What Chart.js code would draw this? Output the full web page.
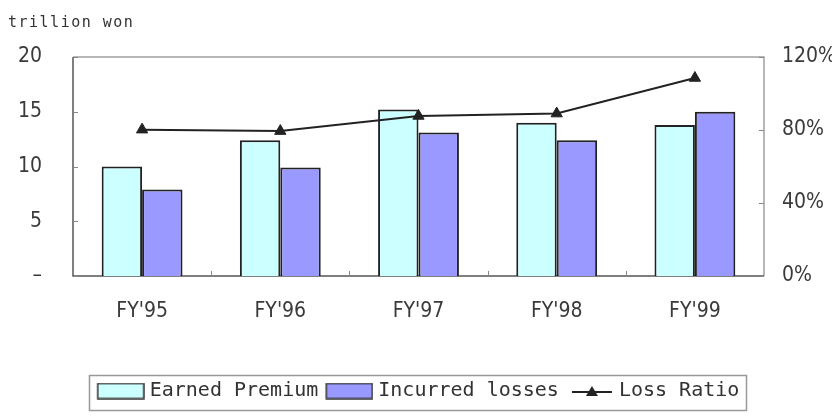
<!DOCTYPE html>
<html>
<head>
<meta charset="utf-8">
<script src="https://cdn.jsdelivr.net/npm/chart.js@4/dist/chart.umd.min.js"></script>
<style>
html, body { margin: 0; padding: 0; background: #fff; }
#wrap { width: 832px; height: 418px; position: relative; }
</style>
</head>
<body>
<div id="wrap"><canvas id="lossChart"></canvas></div>
<script>
// datos del grafico
const categories = ["FY'95", "FY'96", "FY'97", "FY'98", "FY'99"];
const earnedPremium = [10.0, 12.4, 15.2, 14.0, 13.8];
const incurredLosses = [7.9, 9.9, 13.1, 12.4, 15.0];
const lossRatio = [80.2, 79.4, 87.7, 89.0, 108.5];
const leftTicks = [0, 5, 10, 15, 20];
const rightTicks = [0, 40, 80, 120];

const axisFont = "'DejaVu Sans Condensed', 'DejaVu Sans', sans-serif";
const legendFont = "'DejaVu Sans Mono', monospace";

// muestras de la leyenda
function boxSwatch(color) {
    const c = document.createElement('canvas');
    c.width = 54;
    c.height = 17;
    const g = c.getContext('2d');
    g.fillStyle = color;
    g.fillRect(7, 1, 46, 15);
    g.strokeStyle = '#333';
    g.lineWidth = 1.5;
    g.strokeRect(7, 1, 46, 15);
    return c;
}

function lineSwatch() {
    const c = document.createElement('canvas');
    c.width = 54;
    c.height = 14;
    const g = c.getContext('2d');
    g.strokeStyle = '#222';
    g.lineWidth = 2;
    g.beginPath();
    g.moveTo(12, 8);
    g.lineTo(52, 8);
    g.stroke();
    g.fillStyle = '#222';
    g.beginPath();
    g.moveTo(32, 2);
    g.lineTo(38, 12);
    g.lineTo(26, 12);
    g.closePath();
    g.fill();
    return c;
}

const swatches = [boxSwatch('#ccffff'), boxSwatch('#9999ff'), lineSwatch()];

// marco, marcas y titulo
const framePlugin = {
    id: 'frame',
    beforeDatasetsDraw(chart) {
        const { ctx, chartArea: a, scales } = chart;
        ctx.save();
        ctx.lineWidth = 1.5;
        ctx.strokeStyle = '#a0a0a0';
        ctx.beginPath();
        ctx.moveTo(a.left, a.top);
        ctx.lineTo(a.right, a.top);
        ctx.lineTo(a.right, a.bottom);
        ctx.stroke();
        ctx.strokeStyle = '#555';
        ctx.beginPath();
        ctx.moveTo(a.left, a.top);
        ctx.lineTo(a.left, a.bottom);
        ctx.lineTo(a.right, a.bottom);
        ctx.stroke();

        ctx.lineWidth = 1;
        ctx.strokeStyle = '#888';
        ctx.beginPath();
        leftTicks.forEach(v => {
            const y = Math.round(scales.y.getPixelForValue(v)) + 0.5;
            ctx.moveTo(a.left, y);
            ctx.lineTo(a.left + 5, y);
        });
        rightTicks.forEach(v => {
            const y = Math.round(scales.y1.getPixelForValue(v)) + 0.5;
            ctx.moveTo(a.right - 5, y);
            ctx.lineTo(a.right, y);
        });
        for (let i = 1; i < categories.length; i++) {
            const x = Math.round((scales.x.getPixelForValue(i - 1) + scales.x.getPixelForValue(i)) / 2) + 0.5;
            ctx.moveTo(x, a.bottom);
            ctx.lineTo(x, a.bottom - 5);
        }
        ctx.stroke();
        ctx.restore();
    },
    afterDraw(chart) {
        const ctx = chart.ctx;
        ctx.save();
        ctx.fillStyle = '#333';
        ctx.font = "15px " + legendFont;
        ctx.letterSpacing = '1.5px';
        ctx.textBaseline = 'alphabetic';
        ctx.textAlign = 'left';
        ctx.fillText('trillion won', 8, 27);
        ctx.restore();

        const legend = chart.legend;
        const boxes = legend.legendHitBoxes;
        if (!boxes || !boxes.length) return;
        const left = Math.min(...boxes.map(b => b.left)) - 7;
        const right = Math.max(...boxes.map(b => b.left + b.width)) + 6;
        ctx.save();
        ctx.strokeStyle = '#999';
        ctx.lineWidth = 1.5;
        ctx.strokeRect(Math.round(left) + 0.5, legend.top + 0.5, Math.round(right - left), legend.height - 1);
        ctx.restore();
    }
};

const ctx = document.getElementById('lossChart').getContext('2d');
new Chart(ctx, {
    type: 'bar',
    data: {
        labels: categories,
        datasets: [
            {
                label: 'Earned Premium',
                data: earnedPremium,
                backgroundColor: '#ccffff',
                borderColor: '#222',
                borderWidth: 2,
                barPercentage: 1.0,
                categoryPercentage: 0.585,
                yAxisID: 'y'
            },
            {
                label: 'Incurred losses',
                data: incurredLosses,
                backgroundColor: '#9999ff',
                borderColor: '#222',
                borderWidth: 2,
                barPercentage: 1.0,
                categoryPercentage: 0.585,
                yAxisID: 'y'
            },
            {
                type: 'line',
                label: 'Loss Ratio',
                data: lossRatio,
                borderColor: '#222',
                borderWidth: 2,
                backgroundColor: '#222',
                pointStyle: 'triangle',
                pointRadius: 6.5,
                pointBackgroundColor: '#222',
                pointBorderColor: '#222',
                pointBorderWidth: 1,
                tension: 0,
                order: -1,
                yAxisID: 'y1'
            }
        ]
    },
    options: {
        responsive: true,
        maintainAspectRatio: false,
        animation: false,
        layout: {
            padding: { top: 57, left: 3, right: 0, bottom: 7 }
        },
        plugins: {
            tooltip: { enabled: false },
            legend: {
                display: true,
                position: 'bottom',
                labels: {
                    usePointStyle: true,
                    pointStyleWidth: 44,
                    padding: 6,
                    color: '#333',
                    font: { family: legendFont, size: 20 },
                    sort: (a, b) => a.datasetIndex - b.datasetIndex,
                    generateLabels: (chart) => {
                        const items = Chart.defaults.plugins.legend.labels.generateLabels(chart);
                        items.forEach(item => {
                            item.pointStyle = swatches[item.datasetIndex];
                            item.lineWidth = 0;
                        });
                        return items;
                    }
                }
            }
        },
        scales: {
            x: {
                grid: { display: false, drawTicks: false },
                border: { display: false },
                ticks: {
                    padding: 23,
                    color: '#3a3a3a',
                    font: { family: axisFont, size: 21 }
                },
                afterFit: (scale) => { scale.height = 99; }
            },
            y: {
                position: 'left',
                min: 0,
                max: 20,
                grid: { display: false, drawTicks: false },
                border: { display: false },
                afterBuildTicks: (scale) => { scale.ticks = leftTicks.map(v => ({ value: v })); },
                ticks: {
                    padding: 31,
                    color: '#3a3a3a',
                    font: { family: axisFont, size: 21 },
                    callback: (v) => v === 0 ? '–' : v
                },
                afterFit: (scale) => { scale.width = 70; }
            },
            y1: {
                position: 'right',
                min: 0,
                max: 120,
                grid: { display: false, drawTicks: false },
                border: { display: false },
                afterBuildTicks: (scale) => { scale.ticks = rightTicks.map(v => ({ value: v })); },
                ticks: {
                    padding: 18,
                    color: '#3a3a3a',
                    font: { family: axisFont, size: 21 },
                    callback: (v) => v + '%'
                },
                afterFit: (scale) => { scale.width = 68; }
            }
        }
    },
    plugins: [framePlugin]
});
</script>
</body>
</html>
